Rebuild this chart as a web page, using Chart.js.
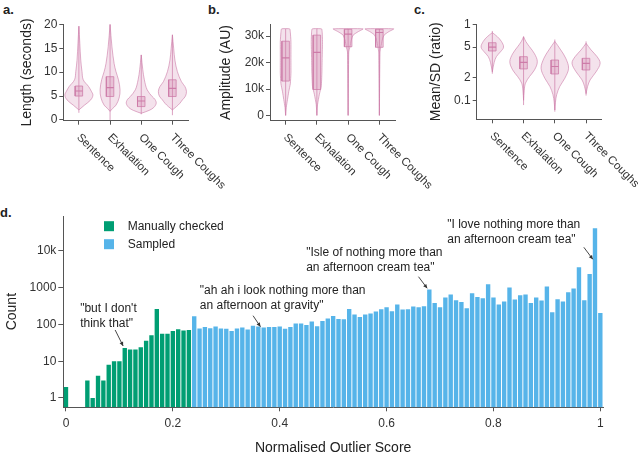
<!DOCTYPE html>
<html>
<head>
<meta charset="utf-8">
<script src="https://cdn.jsdelivr.net/npm/chart.js@4.4.1/dist/chart.umd.min.js"></script>
<style>
  html, body { margin: 0; padding: 0; background: #fff; }
  #wrap { position: relative; width: 640px; height: 454px; overflow: hidden; }
  #wrap canvas { position: absolute; }
  .tag { position: absolute; font: bold 13px "Liberation Sans", Arial, sans-serif; color: #222; }
</style>
</head>
<body>
<div id="wrap">
  <div class="tag" style="left:3px;top:2px">a.</div>
  <div class="tag" style="left:208px;top:2px">b.</div>
  <div class="tag" style="left:414px;top:2px">c.</div>
  <div class="tag" style="left:0px;top:205px">d.</div>
  <canvas id="panelA" width="240" height="200" style="left:0px;top:0px"></canvas>
  <canvas id="panelB" width="240" height="200" style="left:205px;top:0px"></canvas>
  <canvas id="panelC" width="235" height="200" style="left:405px;top:0px"></canvas>
  <canvas id="panelD" width="640" height="257" style="left:0px;top:200px"></canvas>
</div>
<script>
// ---- data ----
const categories = ['Sentence', 'Exhalation', 'One Cough', 'Three Coughs'];

// violin outlines: [value, half width in category units]
const lengthSentence = [[2.1, 0], [3.1, 0.18], [4.2, 0.38], [5.2, 0.45], [6.0, 0.40], [7.0, 0.31], [8.4, 0.14], [10.1, 0.10], [12.5, 0.06], [16, 0.03], [19.6, 0]];
const lengthExhalation = [[1.8, 0], [2.4, 0.08], [3.1, 0.19], [4.6, 0.29], [6.3, 0.32], [8.4, 0.27], [10.1, 0.19], [11.8, 0.13], [15.3, 0.06], [20, 0]];
const lengthOneCough = [[1.4, 0], [2.0, 0.25], [2.6, 0.40], [3.5, 0.48], [4.3, 0.44], [4.9, 0.35], [6.3, 0.19], [8.4, 0.10], [10.5, 0.05], [13.6, 0]];
const lengthThreeCoughs = [[2.1, 0], [2.8, 0.13], [3.5, 0.24], [4.2, 0.32], [5.0, 0.42], [6.0, 0.45], [7.0, 0.40], [8.0, 0.29], [10.1, 0.16], [12.5, 0.08], [15, 0.04], [17.8, 0]];
const lengthQ1 = [5.0, 4.9, 2.8, 4.9];
const lengthMedian = [6.06, 6.75, 3.97, 6.6];
const lengthQ3 = [7.1, 9.05, 4.9, 8.4];
const lengthMin = [1.5, 0, 1.2, 1.0];
const lengthMax = [19.6, 20, 13.6, 17.8];
const lengthTicks = [0, 5, 10, 15, 20];

const ampSentence = [[0, 0], [3000, 0.02], [6000, 0.06], [9000, 0.10], [12000, 0.15], [16000, 0.17], [22000, 0.17], [28000, 0.17], [31500, 0.15], [32767, 0.13]];
const ampExhalation = [[0, 0], [4000, 0.02], [8000, 0.08], [11000, 0.14], [16000, 0.16], [22000, 0.17], [28000, 0.18], [31500, 0.17], [32767, 0.15]];
const ampOneCough = [[0, 0], [24000, 0.02], [26000, 0.06], [28500, 0.10], [30400, 0.16], [31700, 0.32], [32767, 0.48]];
const ampThreeCoughs = [[0, 0], [24000, 0.02], [26000, 0.05], [28500, 0.09], [30400, 0.15], [31700, 0.30], [32767, 0.46]];
const ampQ1 = [13000, 9800, 26000, 25800];
const ampMedian = [21800, 23900, 30800, 31400];
const ampQ3 = [28100, 30400, 32600, 32600];
const ampMin = [0, 0, 0, 0];
const ampMax = [32767, 32767, 32767, 32767];
const ampTicks = [0, 10000, 20000, 30000];
const ampTickLabels = ['0', '10k', '20k', '30k'];

const ratioSentence = [[0.50, 0], [0.60, 0.06], [0.66, 0.13], [0.71, 0.26], [0.76, 0.36], [0.82, 0.29], [0.87, 0.16], [0.912, 0]];
const ratioExhalation = [[0.20, 0], [0.30, 0.02], [0.38, 0.06], [0.45, 0.19], [0.52, 0.35], [0.606, 0.44], [0.69, 0.35], [0.764, 0.19], [0.82, 0.07], [0.87, 0]];
const ratioOneCough = [[0.098, 0], [0.18, 0.02], [0.26, 0.06], [0.347, 0.16], [0.432, 0.32], [0.537, 0.44], [0.642, 0.35], [0.73, 0.19], [0.82, 0]];
const ratioThreeCoughs = [[0.27, 0], [0.347, 0.05], [0.415, 0.13], [0.50, 0.32], [0.59, 0.45], [0.66, 0.35], [0.73, 0.16], [0.80, 0]];
const ratioQ1 = [0.719, 0.530, 0.477, 0.519];
const ratioMedian = [0.759, 0.600, 0.556, 0.588];
const ratioQ3 = [0.806, 0.659, 0.624, 0.642];
const ratioMin = [0.48, 0.15, 0.08, 0.25];
const ratioMax = [0.93, 0.87, 0.84, 0.82];
const ratioTicks = [0.193, 0.438, 0.761, 1.0];
const ratioTickLabels = ['0.1', '2', '5', '1'];

// histogram of outlier scores (bin centres)
const scoreBins = [0, 0.01, 0.02, 0.03, 0.04, 0.05, 0.06, 0.07, 0.08, 0.09,
  0.1, 0.11, 0.12, 0.13, 0.14, 0.15, 0.16, 0.17, 0.18, 0.19,
  0.2, 0.21, 0.22, 0.23, 0.24, 0.25, 0.26, 0.27, 0.28, 0.29,
  0.3, 0.31, 0.32, 0.33, 0.34, 0.35, 0.36, 0.37, 0.38, 0.39,
  0.4, 0.41, 0.42, 0.43, 0.44, 0.45, 0.46, 0.47, 0.48, 0.49,
  0.5, 0.51, 0.52, 0.53, 0.54, 0.55, 0.56, 0.57, 0.58, 0.59,
  0.6, 0.61, 0.62, 0.63, 0.64, 0.65, 0.66, 0.67, 0.68, 0.69,
  0.7, 0.71, 0.72, 0.73, 0.74, 0.75, 0.76, 0.77, 0.78, 0.79,
  0.8, 0.81, 0.82, 0.83, 0.84, 0.85, 0.86, 0.87, 0.88, 0.89,
  0.9, 0.91, 0.92, 0.93, 0.94, 0.95, 0.96, 0.97, 0.98, 0.99, 1];
const manualCounts = [2, null, null, null, 3, 1, 4, 3, 8, 10,
  10, 23, 21, 21, 24, 36, 51, 264, 56, 56,
  66, 74, 69, 71];
const sampledCounts = [168, 78, 86, 79, 88, 78,
  76, 67, 78, 83, 73, 92, 88, 83, 85, 85,
  88, 76, 85, 106, 106, 97, 121, 90, 125, 146,
  170, 142, 139, 266, 187, 161, 187, 198, 226, 261,
  296, 230, 350, 255, 261, 309, 296, 315, 896, 387,
  296, 543, 655, 459, 412, 278, 705, 564, 519, 1250,
  543, 350, 423, 1018, 478, 627, 655, 387, 543, 449,
  1083, 216, 488, 423, 758, 955, 3600, 459, 2380, 41500,
  207];
const scoreTicks = [0, 0.2, 0.4, 0.6, 0.8, 1];
const countTicks = [1, 10, 100, 1000, 10000];
const countTickLabels = ['1', '10', '100', '1000', '10k'];

const notes = [
  { lines: ['"but I don\'t', 'think that"'], score: 0.107, count: 26 },
  { lines: ['"ah ah i look nothing more than', 'an afternoon at gravity"'], score: 0.364, count: 87 },
  { lines: ['"Isle of nothing more than', 'an afternoon cream tea"'], score: 0.676, count: 966 },
  { lines: ['"I love nothing more than', 'an afternoon cream tea"'], score: 0.986, count: 5940 }
];

// ---- styling ----
const FONT = '"Liberation Sans", Arial, sans-serif';
Chart.defaults.font.family = FONT;
Chart.defaults.color = '#333';
const AXIS = '#555';
const PINK = 'rgba(204, 121, 167, ';
const GREEN = '#009E73';
const BLUE = '#56B4E9';

// category labels slanted downwards to the right, starting at each tick
const slantedLabels = {
    id: 'slantedLabels',
    afterDraw(chart) {
        const xs = chart.scales.x;
        const ctx = chart.ctx;
        ctx.save();
        ctx.font = '11.5px ' + FONT;
        ctx.fillStyle = '#333';
        ctx.textAlign = 'left';
        ctx.textBaseline = 'middle';
        categories.forEach((name, i) => {
            ctx.save();
            ctx.translate(xs.getPixelForValue(i) - 0.5, xs.top + 15);
            ctx.rotate(Math.PI / 4);
            ctx.fillText(name, 0, 0);
            ctx.restore();
        });
        ctx.restore();
    }
};

function violinPanel(id, shapes, q1, med, q3, lo, hi, y, geom) {
    const datasets = [];
    const bw = 0.12;
    shapes.forEach((shape, i) => {
        const left = shape.map(p => ({ x: i - p[1], y: p[0] }));
        const right = shape.slice().reverse().map(p => ({ x: i + p[1], y: p[0] }));
        datasets.push({
            data: left.concat(right, [left[0]]),
            fill: 'shape', backgroundColor: PINK + '0.22)', borderColor: PINK + '0.6)',
            borderWidth: 1, tension: geom.tension, pointRadius: 0, order: 4
        });
        datasets.push({
            data: [{ x: i, y: lo[i] }, { x: i, y: hi[i] }],
            borderColor: PINK + '0.7)', borderWidth: 1, pointRadius: 0, fill: false, order: 3
        });
        datasets.push({
            data: [{ x: i - bw, y: q1[i] }, { x: i + bw, y: q1[i] }, { x: i + bw, y: q3[i] },
                   { x: i - bw, y: q3[i] }, { x: i - bw, y: q1[i] }],
            fill: 'shape', backgroundColor: PINK + '0.3)', borderColor: PINK + '0.75)',
            borderWidth: 1, tension: 0, pointRadius: 0, order: 2
        });
        datasets.push({
            data: [{ x: i - bw, y: med[i] }, { x: i + bw, y: med[i] }],
            borderColor: PINK + '0.95)', borderWidth: 1.2, pointRadius: 0, fill: false, order: 1
        });
    });

    return new Chart(document.getElementById(id), {
        type: 'line',
        data: { datasets: datasets },
        options: {
            responsive: false,
            animation: false,
            events: [],
            layout: { autoPadding: false, padding: { left: 0, top: geom.top, right: geom.right, bottom: 0 } },
            plugins: { legend: { display: false }, tooltip: { enabled: false } },
            scales: {
                x: {
                    type: 'linear', min: -0.5, max: 3.5,
                    afterBuildTicks: s => { s.ticks = categories.map((c, i) => ({ value: i })); },
                    ticks: { display: false },
                    grid: { display: true, drawOnChartArea: false, tickLength: 4, color: AXIS },
                    border: { display: true, color: AXIS, width: 1 },
                    afterFit: s => { s.height = geom.xHeight; }
                },
                y: {
                    type: 'linear', min: y.min, max: y.max,
                    afterBuildTicks: s => { s.ticks = y.ticks.map(v => ({ value: v })); },
                    ticks: {
                        font: { size: 12 }, padding: 2,
                        callback: (v) => y.labels ? y.labels[y.ticks.indexOf(v)] : String(v)
                    },
                    grid: { display: true, drawOnChartArea: false, tickLength: 4, color: AXIS },
                    border: { display: true, color: AXIS, width: 1 },
                    title: { display: true, text: y.title, font: { size: 14 }, color: '#222',
                             padding: { top: geom.titlePad, bottom: 0 } },
                    afterFit: s => { s.width = geom.yWidth; }
                }
            }
        },
        plugins: [slantedLabels]
    });
}

violinPanel('panelA', [lengthSentence, lengthExhalation, lengthOneCough, lengthThreeCoughs],
    lengthQ1, lengthMedian, lengthQ3, lengthMin, lengthMax,
    { min: -0.15, max: 20, ticks: lengthTicks, title: 'Length (seconds)' },
    { top: 24.3, right: 52, xHeight: 79.3, yWidth: 63.3, titlePad: 19, tension: 0.35 });

violinPanel('panelB', [ampSentence, ampExhalation, ampOneCough, ampThreeCoughs],
    ampQ1, ampMedian, ampQ3, ampMin, ampMax,
    { min: -2000, max: 34500, ticks: ampTicks, labels: ampTickLabels, title: 'Amplitude (AU)' },
    { top: 24.3, right: 50, xHeight: 79.3, yWidth: 65, titlePad: 12.6, tension: 0.15 });

violinPanel('panelC', [ratioSentence, ratioExhalation, ratioOneCough, ratioThreeCoughs],
    ratioQ1, ratioMedian, ratioQ3, ratioMin, ratioMax,
    { min: 0, max: 1, ticks: ratioTicks, labels: ratioTickLabels, title: 'Mean/SD (ratio)' },
    { top: 24.3, right: 38.3, xHeight: 80.7, yWidth: 71.7, titlePad: 22.4, tension: 0.35 });

// ---- panel d: histogram ----
const boxLegend = {
    id: 'boxLegend',
    afterDraw(chart) {
        const ctx = chart.ctx;
        const area = chart.chartArea;
        ctx.save();
        ctx.font = '12px ' + FONT;
        ctx.textBaseline = 'middle';
        ctx.textAlign = 'left';
        chart.data.datasets.forEach((ds, i) => {
            const y = area.top + 10.2 + i * 18;
            ctx.fillStyle = ds.backgroundColor;
            ctx.fillRect(area.left + 40.7, y - 5, 10, 10);
            ctx.fillStyle = '#222';
            ctx.fillText(ds.label, area.left + 64.4, y);
        });
        ctx.restore();
    }
};

const noteLayout = [
    { start: [-8, -16], text: [-43, -37] },
    { start: [-7.4, -11], text: [-60.7, -36] },
    { start: [-8.7, -11.6], text: [-121, -35.6] },
    { start: [-9, -12], text: [-145.6, -34.3] }
];

const quoteNotes = {
    id: 'quoteNotes',
    afterDraw(chart) {
        const ctx = chart.ctx;
        const xs = chart.scales.x, ys = chart.scales.y;
        ctx.save();
        ctx.font = '12px ' + FONT;
        ctx.textBaseline = 'middle';
        ctx.textAlign = 'left';
        notes.forEach((n, i) => {
            const lay = noteLayout[i];
            const tx = xs.getPixelForValue(n.score * 100);
            const ty = ys.getPixelForValue(n.count);
            const sx = tx + lay.start[0], sy = ty + lay.start[1];
            ctx.fillStyle = '#222';
            n.lines.forEach((line, k) => {
                ctx.fillText(line, tx + lay.text[0], ty + lay.text[1] + k * 14.5);
            });
            // arrow
            ctx.strokeStyle = '#333';
            ctx.lineWidth = 0.9;
            ctx.beginPath();
            ctx.moveTo(sx, sy);
            ctx.lineTo(tx, ty);
            ctx.stroke();
            const a = Math.atan2(ty - sy, tx - sx);
            ctx.fillStyle = '#333';
            ctx.beginPath();
            ctx.moveTo(tx, ty);
            ctx.lineTo(tx - 4.5 * Math.cos(a - 0.45), ty - 4.5 * Math.sin(a - 0.45));
            ctx.lineTo(tx - 4.5 * Math.cos(a + 0.45), ty - 4.5 * Math.sin(a + 0.45));
            ctx.closePath();
            ctx.fill();
        });
        ctx.restore();
    }
};

const sampledSeries = manualCounts.map(() => null).concat(sampledCounts);

new Chart(document.getElementById('panelD'), {
    type: 'bar',
    data: {
        labels: scoreBins,
        datasets: [
            { label: 'Manually checked', data: manualCounts, backgroundColor: GREEN,
              grouped: false, barPercentage: 0.82, categoryPercentage: 1 },
            { label: 'Sampled', data: sampledSeries, backgroundColor: BLUE,
              grouped: false, barPercentage: 0.82, categoryPercentage: 1 }
        ]
    },
    options: {
        responsive: false,
        animation: false,
        events: [],
        layout: { autoPadding: false, padding: { left: 0, top: 16, right: 37, bottom: 0 } },
        plugins: { legend: { display: false }, tooltip: { enabled: false } },
        scales: {
            x: {
                type: 'category', offset: true,
                afterBuildTicks: s => { s.ticks = scoreTicks.map(v => ({ value: scoreBins.indexOf(v) })); },
                ticks: { autoSkip: false, maxRotation: 0, padding: 5, font: { size: 12 } },
                grid: { display: true, drawOnChartArea: false, offset: false, tickLength: 4, color: AXIS },
                border: { display: true, color: AXIS, width: 1 },
                title: { display: true, text: 'Normalised Outlier Score', font: { size: 14 }, color: '#222',
                         padding: { top: 0, bottom: 0 } },
                afterFit: s => { s.height = 49.7; }
            },
            y: {
                type: 'logarithmic', min: 0.558, max: 89600,
                afterBuildTicks: s => { s.ticks = countTicks.map(v => ({ value: v })); },
                ticks: { font: { size: 12 }, padding: 2,
                         callback: v => countTickLabels[countTicks.indexOf(v)] },
                grid: { display: true, drawOnChartArea: false, tickLength: 5, color: AXIS },
                border: { display: true, color: AXIS, width: 1 },
                title: { display: true, text: 'Count', font: { size: 14 }, color: '#222',
                         padding: { top: 3.3, bottom: 0 } },
                afterFit: s => { s.width = 63.3; }
            }
        }
    },
    plugins: [boxLegend, quoteNotes]
});
</script>
</body>
</html>
